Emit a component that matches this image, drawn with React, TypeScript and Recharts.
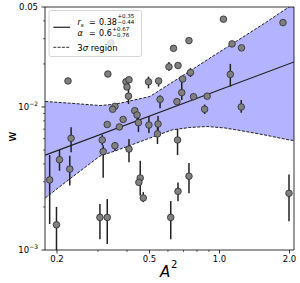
import React from "react";
import { ComposedChart, Area, Line, Scatter, ErrorBar, XAxis, YAxis, ReferenceArea } from "recharts";

// measured points: A^2, w and the ends of the error bar (lo == hi == w when no bar)
const a2 = [
  0.223, 0.331, 0.341, 0.396, 0.408, 0.4, 0.406, 0.495, 0.547, 0.555,
  0.634, 0.606, 0.663, 0.739, 0.75, 0.694, 1.04, 1.132, 1.243, 1.875,
  1.113, 0.688, 0.656, 0.773, 0.885, 0.863, 1.24, 0.355, 0.347, 0.432,
  0.442, 0.385, 0.371, 0.448, 0.497, 0.544, 0.541, 0.329, 0.23, 0.313,
  0.316, 0.355, 0.408, 0.205, 0.227, 0.186, 0.199, 0.306, 0.329, 0.456,
  0.45, 0.47, 0.617, 0.66, 0.739, 0.663, 1.99,
];
const w = [
  0.0152, 0.017, 0.028, 0.015, 0.0155, 0.0138, 0.0119, 0.015, 0.0152, 0.0113,
  0.0257, 0.0191, 0.0195, 0.0291, 0.0174, 0.0157, 0.0411, 0.0276, 0.0259, 0.0389,
  0.0169, 0.0126, 0.0109, 0.0118, 0.0119, 0.00964, 0.01, 0.0101, 0.00964, 0.00942,
  0.00879, 0.00818, 0.00725, 0.00777, 0.00748, 0.0076, 0.00648, 0.00754, 0.00604, 0.00588,
  0.00488, 0.00536, 0.00508, 0.00428, 0.00368, 0.00309, 0.0015, 0.00169, 0.00169, 0.00319,
  0.00297, 0.00231, 0.00169, 0.00588, 0.00328, 0.00257, 0.00249,
];
const wLo = [
  0.0152, 0.017, 0.028, 0.015, 0.0155, 0.0138, 0.0105, 0.0135, 0.0139, 0.0098,
  0.0257, 0.0179, 0.0195, 0.0291, 0.0162, 0.0157, 0.0411, 0.0276, 0.0259, 0.0389,
  0.0139, 0.0112, 0.0109, 0.0118, 0.0119, 0.00893, 0.0091, 0.0101, 0.00964, 0.00942,
  0.00785, 0.00818, 0.00725, 0.00669, 0.00658, 0.0068, 0.00551, 0.00754, 0.00482, 0.0054,
  0.0032, 0.00492, 0.00411, 0.00358, 0.00282, 0.00152, 0.001, 0.00119, 0.0011, 0.0024,
  0.00297, 0.00216, 0.00119, 0.00461, 0.00249, 0.00219, 0.00159,
];
const wHi = [
  0.0152, 0.017, 0.028, 0.015, 0.0155, 0.0138, 0.0136, 0.0163, 0.016, 0.0121,
  0.0257, 0.0206, 0.0195, 0.0291, 0.0187, 0.0157, 0.0411, 0.0276, 0.0259, 0.0389,
  0.02, 0.015, 0.0109, 0.0118, 0.0119, 0.0104, 0.0112, 0.0101, 0.00964, 0.00942,
  0.00984, 0.00818, 0.00725, 0.00865, 0.00865, 0.00865, 0.0076, 0.00754, 0.00721, 0.0064,
  0.0054, 0.00569, 0.00597, 0.005, 0.00456, 0.00461, 0.002, 0.0021, 0.00227, 0.00421,
  0.00297, 0.00254, 0.0022, 0.00702, 0.00406, 0.00297, 0.00337,
];

// 3 sigma region and the fit line
const bandX = [0.178, 0.227, 0.306, 0.355, 0.412, 0.502, 0.625, 0.746, 0.884, 1.056, 1.225, 1.569, 1.99, 2.091];
const bandLo = [0.00231, 0.00314, 0.00454, 0.00492, 0.00538, 0.00607, 0.00691, 0.00719, 0.0073, 0.00713, 0.00685, 0.00637, 0.00588, 0.00583];
const bandHi = [0.01093, 0.01063, 0.01024, 0.01044, 0.01102, 0.01184, 0.01484, 0.01785, 0.02132, 0.02565, 0.02988, 0.03867, 0.05004, 0.05268];
const fitW = [0.00461, null, null, null, null, null, null, null, null, null, null, null, null, 0.02064];

const xTicks = [0.2, 0.3, 0.4, 0.5, 0.6, 0.7, 0.8, 0.9, 1.0, 2.0];
const xTickLabels = ["0.2", "", "", "0.5", "", "", "", "", "1.0", "2.0"];
const yTicks = [0.001, 0.002, 0.003, 0.004, 0.005, 0.006, 0.007, 0.008, 0.009, 0.01, 0.02, 0.03, 0.04, 0.05];
const yTickLabels = ["10^\u22123", "", "", "", "", "", "", "", "", "10^\u22122", "", "", "", "0.05"];

const points = a2.map((x, i) => ({ x, y: w[i], err: [w[i] - wLo[i], wHi[i] - w[i]] }));
const band = bandX.map((x, i) => ({ x, lo: bandLo[i], hi: bandHi[i], range: [bandLo[i], bandHi[i]], fit: fitW[i] }));

const font = "DejaVu Sans";

function findLabel(ticks: number[], labels: string[], v: number) {
  const i = ticks.findIndex((t) => Math.abs(t - v) < 1e-9);
  return i >= 0 ? labels[i] : "";
}

function XTick(props: any) {
  const { x, y, payload } = props;
  const label = findLabel(xTicks, xTickLabels, payload.value);
  return (
    <g>
      <line x1={x} x2={x} y1={y} y2={y + (label ? 3.5 : 2)} stroke="#000" strokeWidth={label ? 0.8 : 0.6} />
      {label && (
        <text x={x} y={y + 12} textAnchor="middle" fontSize={8.5} fontFamily={font} fill="#000">
          {label}
        </text>
      )}
    </g>
  );
}

function YTick(props: any) {
  const { x, y, payload } = props;
  const label = findLabel(yTicks, yTickLabels, payload.value);
  const [base, exp] = label.split("^");
  return (
    <g>
      <line x1={x - (label ? 3.5 : 2)} x2={x} y1={y} y2={y} stroke="#000" strokeWidth={label ? 0.8 : 0.6} />
      {label && (
        <text x={x - 7} y={y + 3.2} textAnchor="end" fontSize={8.5} fontFamily={font} fill="#000">
          {base}
          {exp && (
            <tspan fontSize={6} dy={-4.6}>
              {exp}
            </tspan>
          )}
        </text>
      )}
    </g>
  );
}

function Dot(props: any) {
  return <circle cx={props.cx} cy={props.cy} r={3.3} fill="#808080" stroke="#2b2b2b" strokeWidth={0.8} />;
}

function Overlay() {
  return (
    <svg width={300} height={283} style={{ position: "absolute", left: 0, top: 0, pointerEvents: "none" }} fontFamily={font}>
      <rect x={49} y={10.5} width={92.5} height={46} rx={2} fill="#fff" fillOpacity={0.8} stroke="#ccc" strokeWidth={0.8} />
      <line x1={53.3} x2={70} y1={27.3} y2={27.3} stroke="#333" strokeWidth={1.3} />
      <line x1={53.3} x2={70} y1={47.3} y2={47.3} stroke="#333" strokeWidth={1} strokeDasharray="3 1.3" />

      <text x={77.5} y={25} fontSize={8} fontStyle="italic">r</text>
      <text x={80.8} y={26.5} fontSize={5.5} fontStyle="italic">s</text>
      <text x={89} y={25} fontSize={8}>=</text>
      <text x={99} y={25} fontSize={8}>0.38</text>
      <text x={117.5} y={18} fontSize={5.5}>+0.35</text>
      <text x={117.5} y={24.3} fontSize={5.5}>{"\u22120.44"}</text>

      <text x={77.5} y={35.5} fontSize={8} fontStyle="italic">{"\u03b1"}</text>
      <text x={89} y={35.5} fontSize={8}>=</text>
      <text x={99} y={35.5} fontSize={8}>0.6</text>
      <text x={112.3} y={31.3} fontSize={5.5}>+0.67</text>
      <text x={112.3} y={37} fontSize={5.5}>{"\u22120.76"}</text>

      <text x={77.3} y={51} fontSize={8.5}>
        3<tspan fontStyle="italic">{"\u03c3"}</tspan> region
      </text>

      <text x={160} y={276.7} fontSize={15} fontStyle="italic">A</text>
      <text x={171} y={268} fontSize={10}>2</text>
      <text x={16.5} y={136.7} fontSize={12.5} textAnchor="middle" transform="rotate(-90 16.5 136.7)">w</text>
    </svg>
  );
}

export default function App() {
  return (
    <div style={{ position: "absolute", left: 0, top: 0, width: 300, height: 283, background: "#fff" }}>
      <ComposedChart width={300} height={283} data={band} margin={{ top: 7, right: 6, bottom: 0, left: 0 }}>
        <XAxis
          type="number"
          dataKey="x"
          scale="log"
          domain={[0.1776, 2.091]}
          allowDataOverflow
          ticks={xTicks}
          interval={0}
          tick={XTick}
          tickLine={false}
          axisLine={false}
          tickSize={0}
          tickMargin={0}
          height={33}
        />
        <YAxis
          type="number"
          dataKey="y"
          scale="log"
          domain={[0.001, 0.05]}
          allowDataOverflow
          ticks={yTicks}
          interval={0}
          tick={YTick}
          tickLine={false}
          axisLine={false}
          tickSize={0}
          tickMargin={0}
          width={45}
        />
        <Area type="linear" dataKey="range" fill="#b3b3ff" fillOpacity={1} stroke="none" isAnimationActive={false} />
        <Line type="linear" dataKey="hi" stroke="#222" strokeWidth={1} strokeDasharray="3 1.5" dot={false} isAnimationActive={false} />
        <Line type="linear" dataKey="lo" stroke="#222" strokeWidth={1} strokeDasharray="3 1.5" dot={false} isAnimationActive={false} />
        <Line type="linear" dataKey="fit" stroke="#222" strokeWidth={1.2} dot={false} connectNulls isAnimationActive={false} />
        <Scatter data={points} shape={Dot} isAnimationActive={false}>
          <ErrorBar dataKey="err" direction="y" width={0} stroke="#222" strokeWidth={1.5} />
        </Scatter>
        <ReferenceArea x1={0.1776} x2={2.091} y1={0.001} y2={0.05} fill="none" stroke="#000" strokeWidth={0.8} ifOverflow="visible" />
      </ComposedChart>
      <Overlay />
    </div>
  );
}
